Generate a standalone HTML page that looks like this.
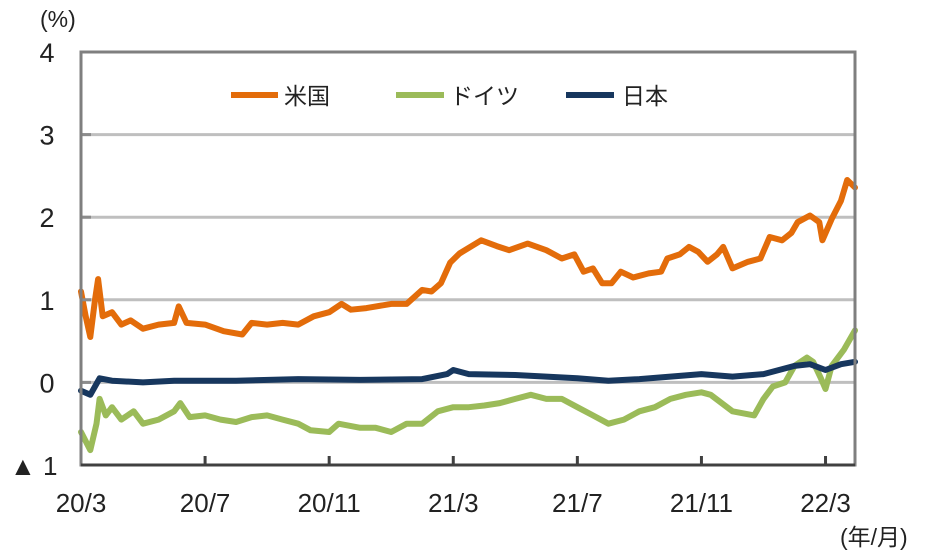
<!DOCTYPE html>
<html><head><meta charset="utf-8">
<style>
html,body{margin:0;padding:0;background:#fff;}
svg{display:block;font-family:"Liberation Sans","Noto Sans CJK JP",sans-serif;}
</style></head>
<body>
<svg id="chart" width="930" height="556" viewBox="0 0 930 556" xmlns="http://www.w3.org/2000/svg">
<g id="grid"></g>
<g id="series"></g>
<g id="axes"></g>
<text x="40" y="27" font-size="23" fill="#222">(%)</text>
<text x="840" y="545" font-size="23" fill="#222">(年/月)</text>
<g>
 <g><line x1="231" y1="95" x2="278" y2="95" stroke="#e36c0a" stroke-width="6"/><text x="284" y="104" font-size="23" fill="#222">米国</text></g>
 <g><line x1="396" y1="95" x2="444" y2="95" stroke="#9bbb59" stroke-width="6"/><text x="450" y="104" font-size="23" fill="#222">ドイツ</text></g>
 <g><line x1="566" y1="95" x2="614" y2="95" stroke="#17375e" stroke-width="6"/><text x="622" y="104" font-size="23" fill="#222">日本</text></g>
</g>
</svg>
<script>
const yTicks=[4,3,2,1,0,-1];
const yTickLabels=["4","3","2","1","0","▲ 1"];
const xTickMonths=[0,4,8,12,16,20,24];
const xTickLabels=["20/3","20/7","20/11","21/3","21/7","21/11","22/3"];
const usT=[0,0.15,0.3,0.45,0.55,0.7,1.0,1.3,1.6,2.0,2.5,3.0,3.15,3.4,4,4.6,5.2,5.5,6,6.5,7,7.5,8,8.4,8.7,9.2,10,10.5,11,11.3,11.6,11.9,12.2,12.9,13.4,13.8,14.4,15,15.5,15.9,16.2,16.5,16.8,17.1,17.4,17.8,18.3,18.7,18.9,19.3,19.6,19.9,20.2,20.5,20.7,21.0,21.5,21.9,22.2,22.6,22.9,23.1,23.5,23.8,23.9,24.2,24.5,24.7,24.95];
const usV=[1.1,0.8,0.55,1.0,1.25,0.8,0.85,0.7,0.75,0.65,0.7,0.72,0.92,0.72,0.7,0.62,0.58,0.72,0.7,0.72,0.7,0.8,0.85,0.95,0.88,0.9,0.95,0.95,1.12,1.1,1.2,1.45,1.56,1.72,1.65,1.6,1.68,1.6,1.5,1.55,1.34,1.38,1.2,1.2,1.34,1.27,1.32,1.34,1.5,1.55,1.64,1.58,1.46,1.55,1.64,1.38,1.46,1.5,1.76,1.72,1.81,1.94,2.02,1.94,1.72,1.98,2.2,2.45,2.36];
const deT=[0,0.3,0.5,0.6,0.8,1,1.3,1.7,2,2.5,3,3.2,3.5,4,4.5,5,5.5,6,6.5,7,7.4,8,8.3,9,9.5,10,10.5,11,11.5,12,12.5,13,13.5,14,14.5,15,15.5,16,16.5,17,17.5,18,18.5,19,19.5,20,20.3,21,21.7,22,22.3,22.7,23,23.4,23.6,23.85,24,24.2,24.6,24.95];
const deV=[-0.6,-0.82,-0.5,-0.2,-0.4,-0.3,-0.45,-0.35,-0.5,-0.45,-0.35,-0.25,-0.42,-0.4,-0.45,-0.48,-0.42,-0.4,-0.45,-0.5,-0.58,-0.6,-0.5,-0.55,-0.55,-0.6,-0.5,-0.5,-0.35,-0.3,-0.3,-0.28,-0.25,-0.2,-0.15,-0.2,-0.2,-0.3,-0.4,-0.5,-0.45,-0.35,-0.3,-0.2,-0.15,-0.12,-0.15,-0.35,-0.4,-0.2,-0.05,0.0,0.2,0.3,0.25,0.05,-0.08,0.2,0.4,0.63];
const jpT=[0,0.3,0.6,1,2,3,5,7,9,11,11.8,12,12.5,14,16,17,18,19,20,21,22,22.5,23,23.5,24,24.5,24.95];
const jpV=[-0.1,-0.15,0.05,0.02,0.0,0.02,0.02,0.04,0.03,0.04,0.1,0.15,0.1,0.09,0.05,0.02,0.04,0.07,0.1,0.07,0.1,0.15,0.2,0.22,0.15,0.22,0.25];

const L=81,R=855,T=52,B=465,yMin=-1,yMax=4,mMax=24.95;
const NS="http://www.w3.org/2000/svg";
function xs(m){return L+(R-L)*m/mMax;}
function ys(v){return B-(B-T)*(v-yMin)/(yMax-yMin);}
function mk(tag,attrs,parent){const e=document.createElementNS(NS,tag);for(const k in attrs)e.setAttribute(k,attrs[k]);parent.appendChild(e);return e;}
const grid=document.getElementById('grid'),axes=document.getElementById('axes'),series=document.getElementById('series');
yTicks.forEach((v,i)=>{
  if(v>yMin&&v<yMax){const g=mk('line',{x1:L,x2:R,y1:ys(v),y2:ys(v),stroke:'#bfbfbf','stroke-width':3},grid);
  
  
  const tk=mk('line',{x1:L,x2:L+10,y1:ys(v),y2:ys(v),stroke:'#8c8c8c','stroke-width':3},axes);
  
  }
  const t=mk('text',{x:47,y:ys(v)+10,'font-size':27,'text-anchor':'middle',fill:'#222'},axes);
  t.textContent=yTickLabels[i];
  
  
  if(i===5){t.setAttribute('x',10);t.setAttribute('text-anchor','start');t.setAttribute('font-size',26);}
});
const fr=mk('rect',{x:L,y:T,width:R-L,height:B-T,fill:'none',stroke:'#7f7f7f','stroke-width':3},axes);


const xa=mk('line',{x1:L,x2:R,y1:B,y2:B,stroke:'#404040','stroke-width':3},axes);


xTickMonths.forEach((m,i)=>{
  if(m>0){const tk=mk('line',{x1:xs(m),x2:xs(m),y1:B,y2:B-9,stroke:'#404040','stroke-width':3},axes);
  
  }
  const t=mk('text',{x:xs(m),y:512,'font-size':26,'text-anchor':'middle',fill:'#222'},axes);
  t.textContent=xTickLabels[i];
  
  
});
function drawLine(tArr,vArr,color,name){
  const d=tArr.map((m,i)=>(i?'L':'M')+xs(m).toFixed(1)+','+ys(vArr[i]).toFixed(1)).join(' ');
  const p=mk('path',{d:d,fill:'none',stroke:color,'stroke-width':6,'stroke-linejoin':'round','stroke-linecap':'round'},series);
  
  
}
drawLine(deT,deV,'#9bbb59','line-germany');
drawLine(jpT,jpV,'#17375e','line-japan');
drawLine(usT,usV,'#e36c0a','line-us');
</script>
</body></html>
